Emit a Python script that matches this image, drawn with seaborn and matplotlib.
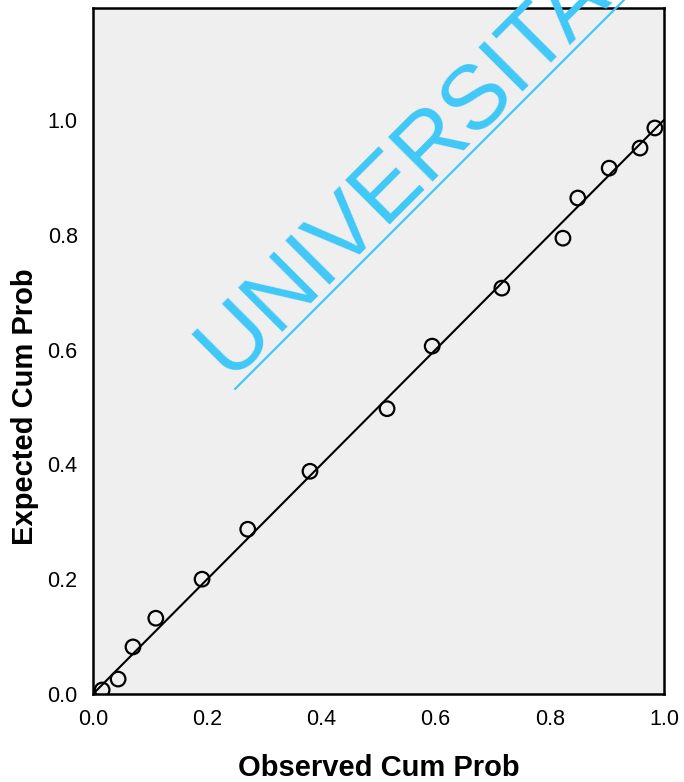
import matplotlib
matplotlib.use("Agg")
import matplotlib.pyplot as plt
import seaborn as sns
import pandas as pd
from matplotlib.lines import Line2D
from matplotlib import font_manager

observed = [0.016, 0.044, 0.070, 0.110, 0.191, 0.271, 0.380, 0.515, 0.594,
            0.716, 0.823, 0.849, 0.904, 0.958, 0.984]
expected = [0.007, 0.026, 0.082, 0.132, 0.200, 0.287, 0.388, 0.497, 0.606,
            0.707, 0.794, 0.864, 0.916, 0.951, 0.986]
ref_line = [0.0, 1.0]
ticks = [0.0, 0.2, 0.4, 0.6, 0.8, 1.0]
tick_labels = ["0.0", "0.2", "0.4", "0.6", "0.8", "1.0"]
watermark = "UNIVERSITA"

df = pd.DataFrame({"Observed Cum Prob": observed, "Expected Cum Prob": expected})
line_df = pd.DataFrame({"x": ref_line, "y": ref_line})

sns.set_theme(style="white")
plt.rcParams["font.family"] = ["Liberation Sans", "DejaVu Sans"]

names = {f.name for f in font_manager.fontManager.ttflist}
tick_family = ["Liberation Sans Narrow", "Liberation Sans"] if "Liberation Sans Narrow" in names \
    else ["Liberation Sans", "DejaVu Sans"]

W, H = 684, 782
fig = plt.figure(figsize=(W / 100, H / 100), dpi=100)
ax = fig.add_axes([93 / W, 1 - 694 / H, (664 - 93) / W, (694 - 8) / H])
ax.set_facecolor("#EFEFEF")

sns.lineplot(data=line_df, x="x", y="y", ax=ax, color="black", linewidth=1.5, zorder=2)
sns.scatterplot(data=df, x="Observed Cum Prob", y="Expected Cum Prob", ax=ax,
                marker="o", s=110, facecolor="none", edgecolor="black",
                linewidth=1.6, zorder=3)

ax.set_xlim(0, 1.0)
ax.set_ylim(0, 1.195)
ax.set_xticks(ticks)
ax.set_xticklabels(tick_labels)
ax.set_yticks(ticks)
ax.set_yticklabels(tick_labels)
ax.tick_params(axis="both", direction="out", length=10, width=1.6, color="black",
               labelsize=15.5, pad=1, labelcolor="black")
for lab in ax.get_xticklabels() + ax.get_yticklabels():
    lab.set_family(tick_family)
for sp in ax.spines.values():
    sp.set_visible(True)
    sp.set_color("black")
    sp.set_linewidth(1.8)

ax.set_xlabel("Observed Cum Prob", fontsize=21, fontweight="bold", labelpad=17, color="black")
ax.set_ylabel("Expected Cum Prob", fontsize=21, fontweight="bold", color="black")
ax.yaxis.set_label_coords(-0.095, 0.5 / 1.195)

# watermark overlay
wm_color = "#40C8F8"
fig.text(229 / W, 1 - 378 / H, watermark, rotation=45, rotation_mode="anchor",
         ha="left", va="baseline", fontsize=65.5, color=wm_color, zorder=10)
fig.add_artist(Line2D([235 / W, 624 / W], [1 - 389 / H, 1.0], color=wm_color,
                      linewidth=1.6, transform=fig.transFigure, zorder=10))

fig.savefig("out.png", dpi=100)
